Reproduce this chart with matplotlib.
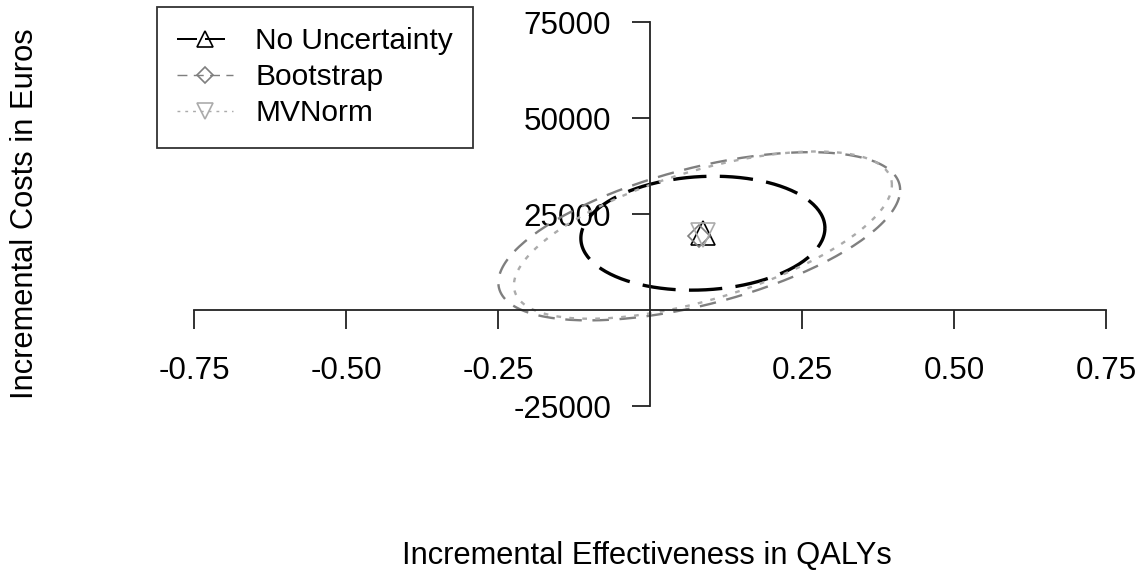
import matplotlib
matplotlib.use("Agg")
import matplotlib.pyplot as plt
from matplotlib.lines import Line2D
import numpy as np

plt.rcParams['font.family'] = ['Liberation Sans', 'DejaVu Sans']

# point estimates and spread of the incremental effects / costs
series = ['No Uncertainty', 'Bootstrap', 'MVNorm']
mean_qaly = [0.087, 0.081, 0.087]
mean_cost = [20000, 19200, 19500]
sd_qaly = [0.082, 0.135, 0.127]
sd_cost = [6060, 8950, 8900]
corr = [0.09, 0.55, 0.60]

colors = ['black', '#7f7f7f', '#ababab']
markers = ['^', 'D', 'v']
msizes = [17, 11, 17]
widths = [2.4, 1.7, 1.7]
dashes = [(0, (10, 4)), (0, (7, 4.5)), (0, (2, 3.5))]

xticks = [-0.75, -0.50, -0.25, 0.25, 0.50, 0.75]
yticks = [-25000, 25000, 50000, 75000]

level_k = np.sqrt(5.991)  # 95% ellipse, chi2 with 2 df


def ellipse(mx, my, sx, sy, r, n=200):
    cov = np.array([[sx * sx, r * sx * sy], [r * sx * sy, sy * sy]])
    L = np.linalg.cholesky(cov)
    t = np.linspace(0, 2 * np.pi, n)
    pts = level_k * L @ np.vstack([np.cos(t), np.sin(t)])
    return mx + pts[0], my + pts[1]


fig = plt.figure(figsize=(11.42, 5.75), dpi=100)
ax = fig.add_axes([194 / 1142, 169 / 575, 912 / 1142, 384 / 575])
ax.set_xlim(-0.75, 0.75)
ax.set_ylim(-25000, 75000)

for i in range(len(series)):
    ex, ey = ellipse(mean_qaly[i], mean_cost[i], sd_qaly[i], sd_cost[i], corr[i])
    ax.plot(ex, ey, color=colors[i], lw=widths[i], linestyle=dashes[i], clip_on=False)
for i in range(len(series)):
    ax.plot(mean_qaly[i], mean_cost[i], marker=markers[i], ms=msizes[i],
            mfc='none', mec=colors[i], mew=1.2, linestyle='none')

ax.spines['top'].set_visible(False)
ax.spines['right'].set_visible(False)
ax.spines['left'].set_position(('data', 0))
ax.spines['bottom'].set_position(('data', 0))
for s in ['left', 'bottom']:
    ax.spines[s].set_linewidth(1.3)
    ax.spines[s].set_color('#222222')

ax.set_xticks(xticks)
ax.set_xticklabels(['%.2f' % v for v in xticks])
ax.set_yticks(yticks)
ax.set_yticklabels(['%d' % v for v in yticks])
ax.tick_params(axis='x', length=14, width=1.3, pad=19, labelsize=22.6, color='#222222')
ax.tick_params(axis='y', length=13, width=1.3, pad=15, labelsize=22.6, color='#222222')

fig.text(647 / 1142, 1 - 556 / 575, 'Incremental Effectiveness in QALYs',
         ha='center', va='center', fontsize=22.2)
fig.text(25 / 1142, 1 - 214 / 575, 'Incremental Costs in Euros',
         ha='center', va='center', rotation=90, fontsize=22.2)

handles = [Line2D([], [], color=colors[i], lw=widths[i] * 0.6, linestyle=dashes[i],
                  marker=markers[i], ms=msizes[i] * 0.7, mfc='none', mec=colors[i], mew=1.2)
           for i in range(len(series))]
leg = fig.legend(handles, series, loc='upper left', bbox_to_anchor=(157 / 1142, 1 - 7 / 575),
                 fontsize=21.5, frameon=True, fancybox=False, edgecolor='black',
                 handlelength=1.87, handletextpad=0.74,
                 labelspacing=0.27, borderpad=0.68, borderaxespad=0)
leg.get_frame().set_linewidth(1.3)

fig.savefig('out.png', dpi=100)
